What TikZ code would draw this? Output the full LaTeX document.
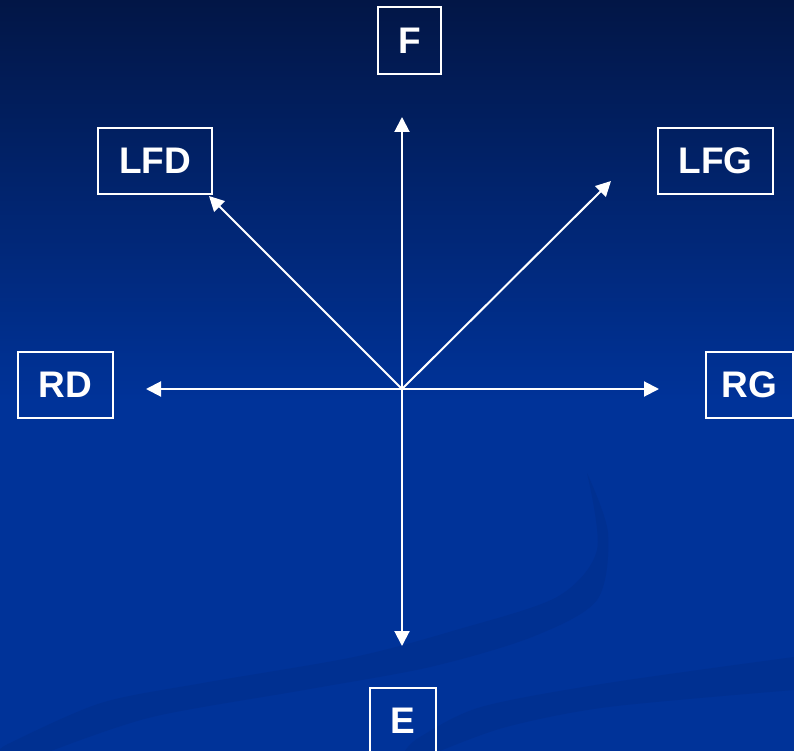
\documentclass[tikz,border=0pt]{standalone}
\usepackage{fontspec}
\setmainfont{Liberation Sans}
\usetikzlibrary{arrows.meta}
\definecolor{bgtop}{RGB}{2,22,70}
\definecolor{bgmid}{RGB}{0,51,153}
\definecolor{swoosh}{RGB}{0,48,145}
\tikzset{
  dirbox/.style={draw=white, line width=1.6pt, text=white, font=\fontsize{37}{42}\selectfont\bfseries, inner sep=0pt},
  dirarrow/.style={draw=white, line width=2pt, -{Triangle[length=15pt,width=15pt]}}
}
\begin{document}
\begin{tikzpicture}[x={(1pt,0)}, y={(0,-1pt)}]
\useasboundingbox (0,0) rectangle (794,751);
% background
\shade[top color=bgtop, bottom color=bgmid] (0,0) rectangle (794,401);
\fill[bgmid] (0,400) rectangle (794,751);
% swooshes
\fill[swoosh] plot[smooth] coordinates {(0,751) (10,743) (101,703) (203,683) (354,657) (456,630) (557,597) (597,550) (587,473)}
  -- plot[smooth] coordinates {(587,473) (608,533) (597,600) (532,637) (430,667) (304,690) (152,717) (51,751)} -- cycle;
\fill[swoosh] plot[smooth] coordinates {(405,751) (420,737) (481,707) (608,683) (794,657)}
  -- (794,690) -- plot[smooth] coordinates {(794,690) (608,707) (506,727) (440,751)} -- cycle;
% boxes
\node[dirbox, minimum width=63pt, minimum height=67pt] (F) at (409.5,40.5) {F};
\node[dirbox, minimum width=114pt, minimum height=66pt] (LFD) at (155,161) {LFD};
\node[dirbox, minimum width=115pt, minimum height=66pt] (LFG) at (715.5,161) {LFG};
\node[dirbox, minimum width=95pt, minimum height=66pt] (RD) at (65.5,385) {RD};
\node[dirbox, minimum width=87pt, minimum height=66pt] (RG) at (749.5,385) {RG};
\node[dirbox, minimum width=66pt, minimum height=66pt] (E) at (403,721) {E};
% arrows
\coordinate (O) at (402,389);
\coordinate (tF) at (402,117);
\coordinate (tE) at (402,646);
\coordinate (tRD) at (146,389);
\coordinate (tRG) at (659,389);
\coordinate (tLFD) at (209,196);
\coordinate (tLFG) at (611,181);
\draw[dirarrow] (O) -- (tF);
\draw[dirarrow] (O) -- (tE);
\draw[dirarrow] (O) -- (tRD);
\draw[dirarrow] (O) -- (tRG);
\draw[dirarrow] (O) -- (tLFD);
\draw[dirarrow] (O) -- (tLFG);
\end{tikzpicture}
\end{document}
